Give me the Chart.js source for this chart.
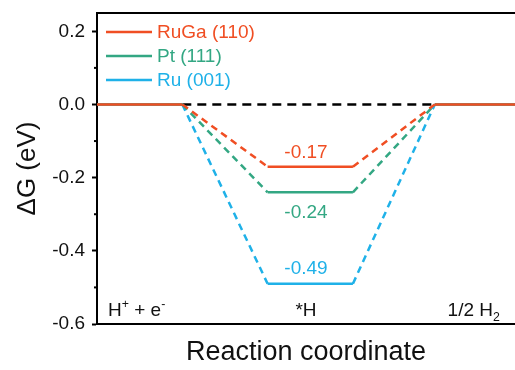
<!DOCTYPE html>
<html lang="en">
<head>
<meta charset="UTF-8">
<script src="https://cdn.jsdelivr.net/npm/chart.js"></script>
<style>
  html, body { margin: 0; padding: 0; background: #fff; }
  #wrap { width: 515px; height: 370px; }
</style>
</head>
<body>
<div id="wrap"><canvas id="myChart"></canvas></div>
<script>
// free energy levels of adsorbed H on each surface
const surfaces = ['RuGa (110)', 'Pt (111)', 'Ru (001)']
const dGH = [-0.17, -0.24, -0.49]
const colors = ['#f04e23', '#33a783', '#1fb1e8']

// reaction coordinate: start/end of each state plateau
const coordX = [0, 1, 2, 3, 3.96, 4.9]
const stateNames = [[['H'], ['+', 'sup'], [' + e'], ['-', 'sup']], [['*H']], [['1/2 H'], ['2', 'sub']]]

const yTicks = [-0.6, -0.4, -0.2, 0.0, 0.2]
const yMinor = [-0.5, -0.3, -0.1, 0.1]

const FONT = "'Liberation Sans', Arial, sans-serif"
Chart.defaults.font.family = FONT
Chart.defaults.color = '#111'

function dashed(ctx) {
  return (ctx.p0DataIndex === 1 || ctx.p0DataIndex === 3) ? [7, 5] : undefined
}

const datasets = surfaces.map((name, k) => ({
  label: name,
  data: coordX.map((x, i) => ({ x: x, y: (i === 2 || i === 3) ? dGH[k] : 0 })),
  borderColor: colors[k],
  borderWidth: 2.5,
  pointRadius: 0,
  segment: { borderDash: dashed }
}))
// zero reference between the two end states
datasets.push({
  label: 'ref',
  data: [{ x: coordX[1], y: 0 }, { x: coordX[4], y: 0 }],
  borderColor: '#000',
  borderWidth: 2.5,
  borderDash: [9, 6],
  pointRadius: 0
})

function drawRich(ctx, parts, x, y, size, align) {
  let total = 0
  parts.forEach(p => {
    ctx.font = (p[1] ? size * 0.65 : size) + 'px ' + FONT
    total += ctx.measureText(p[0]).width
  })
  let cx = align === 'center' ? x - total / 2 : x
  ctx.textAlign = 'left'
  ctx.textBaseline = 'alphabetic'
  parts.forEach(p => {
    const s = p[1] ? size * 0.65 : size
    ctx.font = s + 'px ' + FONT
    let dy = 0
    if (p[1] === 'sup') dy = -size * 0.42
    if (p[1] === 'sub') dy = size * 0.25
    ctx.fillText(p[0], cx, y + dy)
    cx += ctx.measureText(p[0]).width
  })
}

const extras = {
  id: 'extras',
  afterDraw(chart) {
    const ctx = chart.ctx
    const xs = chart.scales.x
    const ys = chart.scales.y
    const area = chart.chartArea
    ctx.save()
    // top frame line
    ctx.strokeStyle = '#000'
    ctx.lineWidth = 2
    ctx.beginPath()
    ctx.moveTo(area.left - 1, area.top)
    ctx.lineTo(area.right, area.top)
    ctx.stroke()
    // minor ticks
    yMinor.forEach(v => {
      const py = ys.getPixelForValue(v)
      ctx.beginPath()
      ctx.moveTo(area.left - 3, py)
      ctx.lineTo(area.left, py)
      ctx.stroke()
    })
    // value labels on the *H plateau
    const offs = [-14, 20, -15]
    ctx.font = '19px ' + FONT
    ctx.textAlign = 'center'
    ctx.textBaseline = 'middle'
    dGH.forEach((v, k) => {
      ctx.fillStyle = colors[k]
      ctx.fillText(v.toFixed(2), xs.getPixelForValue(2.45), ys.getPixelForValue(v) + offs[k])
    })
    // state names
    ctx.fillStyle = '#111'
    const by = area.bottom - 8
    drawRich(ctx, stateNames[0], area.left + 11, by, 19, 'left')
    drawRich(ctx, stateNames[1], xs.getPixelForValue(2.45), by, 19, 'center')
    drawRich(ctx, stateNames[2], xs.getPixelForValue(4.11), by, 19, 'left')
    // legend
    surfaces.forEach((name, k) => {
      const ly = area.top + 19 + k * 24
      ctx.strokeStyle = colors[k]
      ctx.lineWidth = 2.5
      ctx.beginPath()
      ctx.moveTo(area.left + 9, ly)
      ctx.lineTo(area.left + 55, ly)
      ctx.stroke()
      ctx.fillStyle = colors[k]
      ctx.font = '19px ' + FONT
      ctx.textAlign = 'left'
      ctx.textBaseline = 'middle'
      ctx.fillText(name, area.left + 60, ly + 1)
    })
    ctx.restore()
  }
}

new Chart(document.getElementById('myChart'), {
  type: 'line',
  data: { datasets: datasets },
  plugins: [extras],
  options: {
    responsive: true,
    maintainAspectRatio: false,
    animation: false,
    layout: { padding: { top: 13, right: 0, left: 0, bottom: 0 } },
    plugins: { legend: { display: false }, tooltip: { enabled: false } },
    scales: {
      x: {
        type: 'linear',
        min: 0,
        max: coordX[coordX.length - 1],
        afterFit: s => { s.height = 46; s.paddingLeft = 0; s.paddingRight = 0 },
        grid: { drawOnChartArea: false, drawTicks: false },
        border: { color: '#000', width: 2 },
        ticks: { display: false },
        title: {
          display: true,
          text: 'Reaction coordinate',
          font: { size: 27 },
          color: '#111',
          padding: { top: 0, bottom: 1 }
        }
      },
      y: {
        min: -0.6,
        max: 0.25,
        afterFit: s => { s.width = 97; s.paddingTop = 0; s.paddingBottom = 0 },
        afterBuildTicks: s => { s.ticks = yTicks.map(v => ({ value: v })) },
        grid: { drawOnChartArea: false, tickLength: 5, tickColor: '#000', tickWidth: 2 },
        border: { color: '#000', width: 2 },
        ticks: {
          font: { size: 19 },
          color: '#111',
          padding: 7,
          callback: v => v.toFixed(1)
        },
        title: {
          display: true,
          text: 'ΔG (eV)',
          font: { size: 26 },
          color: '#111',
          padding: { top: 12, bottom: 0 }
        }
      }
    }
  }
})
</script>
</body>
</html>
